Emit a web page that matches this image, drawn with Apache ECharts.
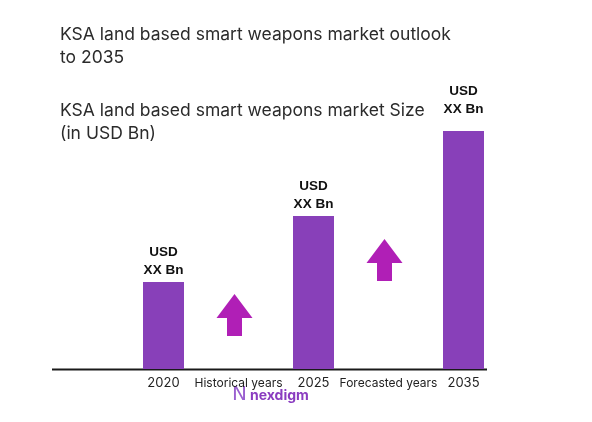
<!DOCTYPE html>
<html>
<head>
<meta charset="utf-8">
<script src="https://cdn.jsdelivr.net/npm/echarts@6/dist/echarts.min.js"></script>
<style>
  html, body { margin: 0; padding: 0; background: #fff; }
  #chart { width: 592px; height: 422px; }
</style>
</head>
<body>
<div id="chart"></div>
<script>
// categories along the x axis (years and the gaps between them)
const categories = ['2020', 'Historical years', '2025', 'Forecasted years', '2035']
// bar heights (relative, values are hidden as XX in the source)
const barValues = [8.7, null, 15.3, null, 23.8]
const barLabels = ['USD\nXX Bn', '', 'USD\nXX Bn', '', 'USD\nXX Bn']
// growth arrows sitting in the gap categories
const arrowValues = [null, 5.4, null, 10.9, null]

const chart = echarts.init(document.getElementById('chart'))

// up arrow: wide head, narrower shaft
const arrowPath = 'path://M18,0 L36,24 L25.5,24 L25.5,42 L10.5,42 L10.5,24 L0,24 Z'

const titleStyle = {
  fontSize: 17.5, fontWeight: 'normal', color: '#2b2b2b', lineHeight: 23,
  fontFamily: 'Inter, sans-serif'
}

// last bar's label sits a bit higher in the source
const barData = barValues.map((v, i) =>
  i === barValues.length - 1 ? { value: v, label: { distance: 13 } } : v
)

const option = {
  backgroundColor: '#fff',
  textStyle: { fontFamily: 'Inter, "Noto Sans", sans-serif' },
  title: [
    {
      text: 'KSA land based smart weapons market outlook\nto 2035',
      left: 55, top: 18,
      textStyle: titleStyle
    },
    {
      text: 'KSA land based smart weapons market Size\n(in USD Bn)',
      left: 55, top: 94,
      textStyle: titleStyle
    }
  ],
  grid: { left: 126, right: 91, top: 69, bottom: 53 },
  xAxis: {
    type: 'category',
    data: categories,
    axisLine: { show: false },
    axisTick: { show: false },
    axisLabel: {
      interval: 0,
      margin: 8,
      color: '#222',
      fontSize: 13,
      formatter(v) {
        return v.indexOf('years') >= 0 ? '{s|' + v + '}' : v
      },
      rich: { s: { fontSize: 12, color: '#222' } }
    }
  },
  yAxis: {
    type: 'value',
    min: 0,
    max: 30,
    show: false
  },
  series: [
    {
      type: 'bar',
      data: barData,
      barWidth: 41,
      itemStyle: { color: '#8840b9' },
      label: {
        show: true,
        position: 'top',
        distance: 3,
        fontWeight: 'bold',
        fontSize: 13.5,
        lineHeight: 18,
        color: '#111',
        fontFamily: '"Liberation Sans", Arial, sans-serif',
        formatter: p => barLabels[p.dataIndex]
      }
    },
    {
      type: 'scatter',
      data: arrowValues,
      symbol: arrowPath,
      symbolSize: [36, 42],
      symbolOffset: [-4, 0],
      itemStyle: { color: '#b01fb6', opacity: 1 },
      silent: true
    }
  ],
  graphic: [
    // baseline spanning wider than the bars
    {
      type: 'line',
      shape: { x1: 52, y1: 369.5, x2: 487, y2: 369.5 },
      style: { stroke: '#1a1a1a', lineWidth: 2 }
    },
    // nexdigm mark
    {
      type: 'text',
      left: 250, top: 389,
      style: { text: 'nexdigm', fontSize: 14, fontWeight: 'bold', fill: '#8a3cc0', fontFamily: 'Inter, sans-serif' }
    },
    {
      type: 'text',
      left: 232, top: 385,
      style: { text: 'N', fontSize: 20, fontWeight: 'normal', fill: '#9a5fd0', fontFamily: 'DejaVu Sans, sans-serif' }
    }
  ]
}

chart.setOption(option)
</script>
</body>
</html>
